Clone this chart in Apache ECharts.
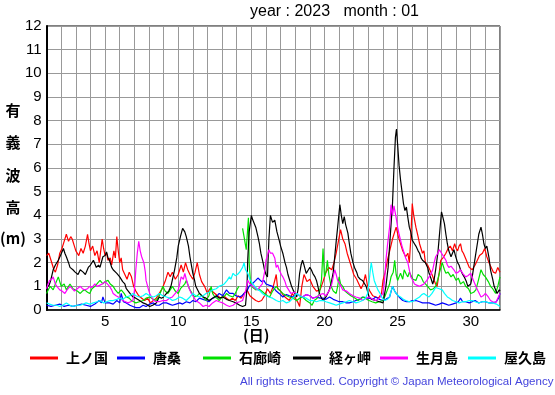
<!DOCTYPE html>
<html><head><meta charset="utf-8">
<script src="https://cdn.jsdelivr.net/npm/echarts@6/dist/echarts.min.js"></script>
<style>html,body{margin:0;padding:0;background:#fff}#c{width:555px;height:395px}</style>
</head><body><div id="c"></div>
<script>
const seriesNames = ['上ノ国','唐桑','石廊崎','経ヶ岬','生月島','屋久島'];
const seriesColors = ['#ff0000','#0000ff','#00e000','#000000','#ff00ff','#00ffff'];
const xTickLabels = [5,10,15,20,25,30];

const kaminokuni = [[1,2.3],[1.15,2.4],[1.3,2.1],[1.5,1.7],[1.6,1.6],[1.75,1.9],[1.9,2.4],[2.05,2.6],[2.2,2.9],[2.35,3.2],[2.5,2.9],[2.65,3.1],[2.75,3.0],[2.9,2.7],[3.0,2.5],[3.2,2.3],[3.35,2.6],[3.5,2.4],[3.65,2.7],[3.8,3.2],[3.9,2.8],[4.0,2.5],[4.15,2.7],[4.3,2.3],[4.45,2.5],[4.6,2.0],[4.7,2.5],[4.8,3.0],[4.9,2.6],[5.0,2.3],[5.1,2.4],[5.2,2.1],[5.35,2.2],[5.45,1.9],[5.6,2.5],[5.7,2.2],[5.8,3.1],[5.9,2.5],[6.0,2.0],[6.1,2.2],[6.2,1.7],[6.35,1.5],[6.5,1.3],[6.65,1.6],[6.8,1.4],[6.95,1.0],[7.1,0.8],[7.3,0.6],[7.5,0.5],[7.7,0.4],[7.9,0.5],[8.1,0.3],[8.3,0.4],[8.5,0.5],[8.7,0.7],[8.9,0.9],[9.1,1.2],[9.3,1.6],[9.45,1.4],[9.6,1.6],[9.8,1.3],[10.0,1.5],[10.2,1.9],[10.35,1.6],[10.5,2.0],[10.65,1.7],[10.8,1.5],[11.0,1.3],[11.15,1.6],[11.3,2.0],[11.45,1.5],[11.6,1.2],[11.8,1.0],[12.0,0.7],[12.15,0.9],[12.3,0.8],[12.5,0.7],[12.7,0.6],[12.9,0.5],[13.1,0.6],[13.3,0.5],[13.5,0.4],[13.7,0.5],[13.9,0.4],[14.1,0.6],[14.3,0.5],[14.5,0.7],[14.7,0.85],[14.9,0.6],[15.1,0.5],[15.3,0.4],[15.5,0.35],[15.7,0.4],[15.9,0.6],[16.1,0.9],[16.3,0.7],[16.5,1.0],[16.7,1.5],[16.8,0.9],[17.0,0.8],[17.2,0.6],[17.4,0.5],[17.6,0.4],[17.8,0.7],[18.0,0.5],[18.2,0.3],[18.3,0.15],[18.45,1.0],[18.6,1.5],[18.8,1.2],[19.0,1.3],[19.2,1.0],[19.45,0.8],[19.7,0.85],[19.9,1.2],[20.1,1.6],[20.3,1.8],[20.5,1.7],[20.65,2.0],[20.8,2.4],[20.95,2.9],[21.1,3.4],[21.25,3.0],[21.4,2.8],[21.55,2.4],[21.7,2.1],[21.85,1.8],[22.0,1.5],[22.2,1.3],[22.35,1.1],[22.5,0.9],[22.65,1.1],[22.8,1.5],[22.95,1.0],[23.1,0.8],[23.3,0.6],[23.5,0.55],[23.7,0.5],[23.9,0.7],[24.0,1.25],[24.15,1.6],[24.3,2.1],[24.5,2.6],[24.65,3.0],[24.8,3.3],[24.9,3.5],[25.05,3.1],[25.2,2.8],[25.35,2.5],[25.55,2.25],[25.7,2.4],[25.8,2.0],[25.9,3.0],[26.0,4.5],[26.1,4.0],[26.25,3.5],[26.4,3.1],[26.5,2.8],[26.6,2.6],[26.7,2.4],[26.8,2.5],[26.9,2.0],[27.05,1.9],[27.2,1.7],[27.35,1.5],[27.5,1.25],[27.6,1.1],[27.7,1.0],[27.85,1.6],[27.95,2.1],[28.1,2.2],[28.3,2.4],[28.45,2.6],[28.6,2.7],[28.75,2.5],[28.9,2.8],[29.0,2.6],[29.1,2.5],[29.2,2.7],[29.3,2.8],[29.4,2.5],[29.5,2.4],[29.7,2.1],[29.9,1.8],[30.1,1.7],[30.3,1.9],[30.45,2.1],[30.6,2.3],[30.8,2.4],[30.95,2.6],[31.1,2.25],[31.25,2.0],[31.4,1.8],[31.55,1.6],[31.7,1.55],[31.85,1.8],[32,1.6]];

const karakuwa = [[1,0.2],[1.3,0.15],[1.6,0.2],[1.9,0.25],[2.2,0.15],[2.5,0.2],[2.8,0.15],[3.1,0.2],[3.4,0.25],[3.7,0.2],[4.0,0.15],[4.3,0.25],[4.6,0.4],[4.75,0.3],[4.85,0.55],[5.0,0.3],[5.3,0.3],[5.55,0.25],[5.8,0.4],[6.0,0.3],[6.1,0.7],[6.25,0.35],[6.45,0.3],[6.7,0.2],[6.9,0.15],[7.1,0.1],[7.35,0.1],[7.6,0.2],[7.8,0.15],[8.05,0.25],[8.3,0.3],[8.5,0.2],[8.7,0.2],[8.95,0.3],[9.2,0.3],[9.4,0.25],[9.6,0.2],[9.85,0.25],[10.1,0.3],[10.3,0.25],[10.55,0.35],[10.8,0.3],[11.0,0.4],[11.2,0.35],[11.45,0.5],[11.7,0.45],[11.9,0.4],[12.1,0.35],[12.35,0.5],[12.6,0.55],[12.8,0.7],[13.05,0.6],[13.3,0.85],[13.5,0.7],[13.75,0.7],[13.95,0.6],[14.2,0.55],[14.35,0.6],[14.5,0.7],[14.7,0.8],[14.85,1.0],[15.05,1.1],[15.3,1.25],[15.45,1.35],[15.55,1.4],[15.7,1.2],[15.85,1.25],[16.0,1.1],[16.2,1.05],[16.45,1.0],[16.7,0.8],[16.9,0.7],[17.15,0.55],[17.4,0.65],[17.6,0.6],[17.85,0.55],[18.1,0.7],[18.3,0.6],[18.5,0.55],[18.75,0.65],[19.0,0.6],[19.2,0.5],[19.45,0.55],[19.7,0.5],[19.9,0.5],[20.1,0.45],[20.35,0.55],[20.6,0.45],[20.8,0.4],[21.0,0.35],[21.25,0.35],[21.5,0.3],[21.7,0.3],[21.95,0.35],[22.15,0.4],[22.4,0.45],[22.6,0.55],[22.85,0.5],[23.05,0.5],[23.3,0.45],[23.5,0.55],[23.75,0.45],[24.0,0.4],[24.2,0.45],[24.45,0.55],[24.65,1.0],[24.8,0.8],[24.9,0.7],[25.1,0.55],[25.35,0.4],[25.6,0.35],[25.8,0.35],[26.0,0.4],[26.25,0.4],[26.5,0.35],[26.7,0.3],[26.95,0.3],[27.15,0.3],[27.4,0.25],[27.6,0.2],[27.85,0.25],[28.05,0.3],[28.3,0.25],[28.5,0.2],[28.75,0.25],[29.0,0.3],[29.15,0.35],[29.3,0.5],[29.45,0.35],[29.65,0.35],[29.9,0.3],[30.1,0.35],[30.3,0.4],[30.55,0.3],[30.8,0.35],[31.0,0.35],[31.25,0.3],[31.5,0.3],[31.75,0.35],[31.9,0.5],[32,0.7]];

const irozaki = [[1,0.7],[1.15,0.9],[1.25,1.0],[1.45,0.85],[1.6,1.1],[1.8,1.4],[1.9,1.2],[2.0,1.0],[2.2,1.1],[2.35,0.85],[2.5,1.0],[2.6,1.1],[2.8,0.9],[2.95,0.85],[3.1,0.8],[3.3,0.7],[3.45,0.8],[3.6,0.85],[3.8,0.75],[3.95,0.7],[4.1,0.9],[4.3,1.0],[4.5,1.15],[4.65,1.25],[4.85,1.1],[5.0,1.2],[5.2,1.25],[5.35,1.1],[5.55,1.0],[5.7,0.85],[5.9,0.7],[6.1,0.85],[6.3,0.7],[6.45,0.55],[6.65,0.5],[6.8,0.4],[6.95,0.35],[7.1,0.3],[7.35,0.35],[7.6,0.4],[7.8,0.5],[8.05,0.55],[8.3,0.45],[8.5,0.4],[8.7,0.6],[8.95,1.0],[9.1,0.8],[9.3,0.7],[9.45,0.85],[9.6,1.0],[9.8,0.8],[10.0,0.7],[10.15,0.9],[10.3,1.0],[10.45,1.1],[10.55,1.25],[10.7,1.0],[10.8,0.85],[10.95,0.7],[11.1,0.55],[11.3,0.6],[11.45,0.7],[11.7,0.55],[11.9,0.4],[12.1,0.6],[12.25,1.0],[12.35,0.7],[12.5,0.55],[12.65,0.5],[12.8,0.4],[13.0,0.55],[13.2,0.6],[13.3,0.7],[13.5,0.6],[13.75,0.55],[13.9,0.7],[14.05,0.9],[14.15,1.0],[14.25,null],[14.4,3.45],[14.5,3.1],[14.65,2.55],[14.7,3.0],[14.8,3.9],[14.85,2.0],[14.95,1.1],[15.1,0.95],[15.3,0.85],[15.5,0.9],[15.7,0.8],[15.9,0.7],[16.1,0.6],[16.25,0.55],[16.45,0.8],[16.7,1.0],[16.9,0.85],[17.15,0.7],[17.4,0.6],[17.6,0.55],[17.85,0.5],[18.1,0.4],[18.3,0.5],[18.5,0.55],[18.75,0.4],[19.0,0.3],[19.15,0.2],[19.3,0.4],[19.5,0.5],[19.65,0.7],[19.8,1.3],[19.9,2.6],[20.0,1.4],[20.1,1.6],[20.2,2.1],[20.3,1.5],[20.45,1.0],[20.6,0.8],[20.8,0.7],[20.9,1.0],[21.0,1.4],[21.1,1.1],[21.25,1.0],[21.4,0.8],[21.6,0.7],[21.8,0.6],[21.95,0.55],[22.1,0.5],[22.3,0.4],[22.5,0.5],[22.7,0.55],[22.9,0.45],[23.05,0.4],[23.25,0.35],[23.5,0.3],[23.75,0.35],[24.0,0.4],[24.15,0.6],[24.3,0.85],[24.45,1.1],[24.55,1.4],[24.7,1.6],[24.8,2.1],[24.9,1.5],[25.0,1.25],[25.1,1.4],[25.2,1.55],[25.35,1.3],[25.45,1.7],[25.6,1.5],[25.7,1.4],[25.8,1.6],[25.9,1.55],[26.05,1.3],[26.25,1.25],[26.4,1.5],[26.6,1.4],[26.75,1.2],[26.9,1.1],[27.05,1.0],[27.25,0.85],[27.45,0.9],[27.6,1.0],[27.75,1.3],[27.85,1.55],[28.05,2.0],[28.2,1.7],[28.3,1.55],[28.45,1.6],[28.65,1.4],[28.8,1.5],[29.0,1.25],[29.15,1.35],[29.3,1.1],[29.5,1.2],[29.65,1.0],[29.85,0.9],[30.0,0.7],[30.2,0.75],[30.35,0.85],[30.5,1.2],[30.7,1.7],[30.85,1.5],[31.0,1.4],[31.2,1.2],[31.35,1.0],[31.5,0.9],[31.7,0.7],[31.85,1.0],[32,1.4]];

const kyogamisaki = [[1,1.1],[1.15,1.0],[1.3,1.3],[1.45,1.7],[1.6,1.9],[1.8,2.1],[1.95,2.3],[2.15,2.6],[2.25,2.4],[2.35,2.25],[2.5,2.0],[2.6,1.8],[2.8,1.7],[2.95,1.6],[3.15,1.5],[3.3,1.7],[3.5,1.6],[3.65,1.5],[3.85,1.8],[4.0,1.9],[4.2,2.1],[4.3,1.95],[4.4,1.8],[4.55,1.9],[4.65,1.8],[4.85,2.25],[5.0,2.3],[5.1,2.45],[5.2,2.2],[5.3,2.1],[5.45,1.8],[5.55,1.7],[5.8,1.55],[5.9,1.6],[6.0,1.4],[6.2,1.2],[6.35,1.1],[6.45,0.9],[6.7,0.7],[6.9,0.55],[7.1,0.5],[7.35,0.4],[7.6,0.3],[7.8,0.25],[8.05,0.15],[8.25,0.2],[8.5,0.3],[8.7,0.55],[8.85,0.5],[9.0,0.55],[9.2,0.7],[9.35,0.8],[9.5,1.0],[9.75,1.7],[9.9,2.2],[10.0,2.7],[10.15,3.1],[10.3,3.45],[10.45,3.3],[10.55,3.1],[10.7,2.7],[10.8,2.25],[10.9,1.9],[11.0,1.55],[11.1,1.3],[11.2,1.0],[11.45,0.7],[11.7,0.55],[11.9,0.5],[12.1,0.4],[12.35,0.5],[12.6,0.6],[12.8,0.5],[13.05,0.55],[13.3,0.45],[13.5,0.4],[13.75,0.35],[13.95,0.3],[14.2,0.2],[14.4,0.15],[14.6,0.2],[14.7,0.9],[14.75,2.1],[14.85,3.3],[15.0,4.0],[15.1,3.8],[15.2,3.8],[15.3,3.5],[15.45,3.1],[15.55,2.8],[15.65,2.4],[15.8,2.0],[15.9,1.7],[16.0,1.5],[16.1,1.4],[16.2,3.0],[16.3,4.0],[16.45,3.7],[16.6,3.8],[16.75,3.3],[16.9,2.95],[17.0,2.7],[17.15,2.4],[17.3,2.0],[17.4,1.8],[17.5,1.5],[17.6,1.3],[17.75,1.0],[17.85,0.85],[18.1,0.55],[18.2,0.9],[18.3,1.55],[18.4,1.9],[18.5,2.1],[18.6,1.9],[18.75,1.55],[18.9,1.7],[19.0,1.8],[19.1,1.7],[19.2,1.55],[19.35,1.4],[19.45,1.25],[19.55,1.0],[19.65,0.7],[19.8,0.5],[19.9,0.4],[20.1,0.55],[20.3,0.8],[20.45,1.1],[20.6,1.6],[20.7,2.25],[20.8,2.9],[20.9,3.5],[21.05,4.45],[21.15,4.0],[21.25,3.65],[21.35,3.95],[21.45,3.6],[21.6,3.25],[21.7,2.8],[21.8,2.4],[21.95,2.0],[22.05,1.8],[22.2,1.6],[22.3,1.4],[22.45,1.3],[22.6,1.25],[22.75,1.1],[22.85,1.0],[23.05,0.55],[23.25,0.45],[23.5,0.4],[23.75,0.35],[24.0,0.3],[24.2,1.0],[24.35,1.8],[24.45,2.7],[24.55,3.6],[24.65,4.5],[24.75,6.0],[24.85,7.3],[24.92,7.65],[25.0,7.0],[25.1,6.1],[25.2,5.5],[25.3,5.0],[25.4,4.5],[25.5,4.2],[25.6,4.35],[25.7,3.9],[25.8,3.5],[25.9,3.3],[26.0,2.95],[26.15,2.8],[26.25,2.7],[26.4,2.5],[26.5,2.4],[26.6,2.2],[26.7,2.1],[26.9,2.0],[27.05,1.8],[27.15,1.55],[27.3,1.3],[27.4,1.1],[27.5,1.3],[27.6,1.7],[27.75,2.4],[27.85,3.1],[27.95,3.8],[28.0,4.15],[28.1,3.9],[28.2,3.65],[28.3,3.2],[28.4,2.8],[28.5,2.5],[28.65,2.25],[28.75,2.4],[28.85,2.55],[28.95,2.3],[29.1,2.0],[29.2,1.9],[29.3,1.7],[29.45,1.5],[29.55,1.4],[29.7,1.2],[29.8,1.0],[30.0,1.1],[30.1,1.4],[30.2,1.8],[30.3,2.2],[30.45,2.8],[30.55,3.2],[30.7,3.5],[30.8,3.2],[30.9,2.8],[31.0,2.6],[31.1,2.7],[31.25,2.2],[31.35,1.7],[31.5,1.3],[31.6,1.0],[31.8,0.7],[31.95,0.85],[32,0.8]];

const ikitsukishima = [[1,0.9],[1.1,1.1],[1.2,1.25],[1.35,1.3],[1.45,1.4],[1.6,1.1],[1.7,1.0],[1.9,0.85],[2.05,0.8],[2.25,0.7],[2.4,0.85],[2.6,1.0],[2.75,0.9],[2.9,0.8],[3.1,0.9],[3.3,1.0],[3.45,0.9],[3.6,0.85],[3.8,0.9],[3.95,1.0],[4.1,0.95],[4.3,1.1],[4.45,1.0],[4.65,1.05],[4.8,1.1],[5.0,1.2],[5.15,1.1],[5.3,1.0],[5.45,0.85],[5.55,0.7],[5.75,0.6],[5.9,0.55],[6.05,0.5],[6.2,0.4],[6.4,0.35],[6.55,0.3],[6.75,0.35],[6.9,0.4],[7.0,0.8],[7.1,1.7],[7.2,2.4],[7.3,2.9],[7.4,2.5],[7.5,2.25],[7.65,2.0],[7.75,1.6],[7.8,1.25],[7.95,0.9],[8.05,0.7],[8.3,0.4],[8.5,0.35],[8.7,0.35],[8.95,0.4],[9.2,0.4],[9.4,0.5],[9.6,0.55],[9.8,0.7],[10.0,0.85],[10.1,1.1],[10.2,1.4],[10.35,1.3],[10.45,1.55],[10.55,1.3],[10.65,1.1],[10.75,0.9],[10.9,0.7],[11.05,0.55],[11.2,0.4],[11.45,0.3],[11.7,0.15],[11.9,0.2],[12.1,0.15],[12.35,0.3],[12.6,0.4],[12.8,0.35],[13.05,0.3],[13.3,0.2],[13.5,0.15],[13.75,0.2],[13.95,0.3],[14.2,0.35],[14.4,0.4],[14.6,0.8],[14.75,1.25],[14.9,1.1],[15.1,1.0],[15.3,0.9],[15.45,0.85],[15.6,1.0],[15.75,1.1],[15.9,1.6],[16.0,2.1],[16.1,2.3],[16.2,2.55],[16.3,2.4],[16.45,2.4],[16.6,2.2],[16.7,1.8],[16.8,1.9],[16.9,1.7],[17.05,1.5],[17.15,1.4],[17.3,1.2],[17.4,1.0],[17.55,0.85],[17.7,0.7],[17.9,0.75],[18.1,0.7],[18.3,0.6],[18.5,0.55],[18.75,0.65],[19.0,0.6],[19.2,0.5],[19.45,0.55],[19.7,0.65],[19.9,0.7],[20.1,0.6],[20.35,0.85],[20.5,1.1],[20.6,1.4],[20.7,1.7],[20.8,1.5],[20.9,1.25],[21.05,1.1],[21.25,0.85],[21.5,0.8],[21.7,0.7],[21.95,0.6],[22.15,0.55],[22.4,0.5],[22.6,0.4],[22.85,0.5],[23.05,0.55],[23.3,0.45],[23.5,0.4],[23.75,0.5],[24.0,0.7],[24.1,1.2],[24.2,2.1],[24.3,2.7],[24.45,3.5],[24.55,4.45],[24.65,4.0],[24.75,4.4],[24.8,4.35],[24.9,3.9],[25.0,3.5],[25.1,3.2],[25.2,2.95],[25.3,2.7],[25.45,2.4],[25.55,2.2],[25.7,2.0],[25.8,1.7],[25.9,1.4],[26.0,1.3],[26.15,1.1],[26.3,1.05],[26.5,1.0],[26.65,1.05],[26.8,1.1],[27.0,1.25],[27.15,1.4],[27.3,1.55],[27.4,1.7],[27.5,2.0],[27.6,2.25],[27.75,2.4],[27.85,2.55],[27.95,2.45],[28.05,2.4],[28.2,2.2],[28.3,2.1],[28.4,1.9],[28.5,1.8],[28.65,1.85],[28.75,1.8],[28.9,1.65],[29.0,1.55],[29.15,1.6],[29.3,1.7],[29.45,1.55],[29.65,1.4],[29.8,1.45],[30.0,1.55],[30.15,1.3],[30.35,1.0],[30.5,0.8],[30.7,0.55],[30.85,0.6],[31.0,0.7],[31.2,0.55],[31.35,0.4],[31.5,0.35],[31.7,0.3],[31.85,0.5],[32,0.7]];

const yakushima = [[1,0.3],[1.2,0.25],[1.45,0.2],[1.7,0.2],[1.9,0.15],[2.1,0.2],[2.35,0.3],[2.6,0.2],[2.8,0.15],[3.05,0.2],[3.3,0.2],[3.5,0.25],[3.7,0.3],[3.95,0.25],[4.2,0.3],[4.45,0.35],[4.65,0.4],[4.9,0.3],[5.1,0.35],[5.35,0.4],[5.55,0.4],[5.8,0.45],[6.0,0.5],[6.2,0.45],[6.45,0.55],[6.7,0.6],[6.9,0.7],[7.1,0.6],[7.35,0.55],[7.6,0.6],[7.8,0.7],[8.05,0.6],[8.3,0.55],[8.5,0.6],[8.7,0.7],[8.95,0.6],[9.2,0.55],[9.4,0.5],[9.6,0.4],[9.85,0.45],[10.1,0.55],[10.3,0.5],[10.55,0.4],[10.8,0.55],[11.0,0.7],[11.2,0.6],[11.45,0.55],[11.7,0.6],[11.9,0.7],[12.1,0.75],[12.35,0.85],[12.6,0.9],[12.8,1.0],[13.0,1.05],[13.15,1.1],[13.35,1.25],[13.5,1.4],[13.6,1.3],[13.75,1.55],[13.9,1.45],[14.05,1.5],[14.2,1.6],[14.3,1.7],[14.4,1.8],[14.5,2.0],[14.6,1.7],[14.75,1.55],[14.9,1.3],[15.1,1.1],[15.3,0.95],[15.45,0.85],[15.6,0.8],[15.75,0.7],[16.0,0.6],[16.2,0.55],[16.45,0.5],[16.7,0.4],[16.9,0.35],[17.15,0.4],[17.4,0.3],[17.6,0.35],[17.85,0.5],[18.1,0.7],[18.3,0.6],[18.5,0.55],[18.75,0.5],[19.0,0.4],[19.2,0.4],[19.45,0.35],[19.7,0.4],[19.9,0.4],[20.1,0.35],[20.35,0.3],[20.6,0.25],[20.8,0.2],[21.0,0.25],[21.25,0.3],[21.5,0.35],[21.7,0.4],[21.95,0.35],[22.15,0.3],[22.4,0.35],[22.6,0.4],[22.8,0.5],[22.95,0.7],[23.05,1.2],[23.15,1.8],[23.2,2.0],[23.3,1.6],[23.4,1.25],[23.55,1.0],[23.65,0.85],[23.8,0.7],[23.9,0.55],[24.1,0.4],[24.3,0.45],[24.45,0.55],[24.55,0.8],[24.65,1.0],[24.75,0.85],[24.9,0.7],[25.05,0.6],[25.2,0.55],[25.4,0.45],[25.55,0.4],[25.8,0.35],[26.0,0.35],[26.25,0.45],[26.5,0.55],[26.65,0.65],[26.8,0.7],[27.0,0.6],[27.15,0.55],[27.35,0.7],[27.5,0.85],[27.6,0.95],[27.7,1.0],[27.85,0.9],[28.05,0.85],[28.2,0.7],[28.4,0.55],[28.55,0.5],[28.75,0.4],[29.0,0.35],[29.2,0.3],[29.45,0.35],[29.65,0.35],[29.9,0.4],[30.1,0.4],[30.3,0.35],[30.55,0.3],[30.8,0.35],[31.0,0.35],[31.25,0.3],[31.5,0.3],[31.75,0.25],[32,0.15]];

const allData = [kaminokuni, karakuwa, irozaki, kyogamisaki, ikitsukishima, yakushima];
const yAxisChars = ['有','義','波','高','(m)'];

const chart = echarts.init(document.getElementById('c'), null, {renderer:'canvas'});
const sansFont = 'Liberation Sans, Arial, sans-serif';
const cjkFont = '"Noto Sans CJK JP", sans-serif';

const graphics = [
  {type:'text', left:250, top:4, style:{text:'year : 2023   month : 01', font:'16px ' + sansFont, fill:'#000'}},
  {type:'text', left:243, top:328, style:{text:'(日)', font:'bold 15px ' + cjkFont, fill:'#000'}},
  {type:'text', left:240, top:376, style:{text:'All rights reserved. Copyright © Japan Meteorological Agency', font:'11.5px ' + sansFont, fill:'#4444dd'}}
];
const yCharY = [110, 142, 175, 207, 238];
yAxisChars.forEach((c,i)=>{
  graphics.push({type:'text', x:13, y:yCharY[i], style:{text:c, font:'bold 15px ' + cjkFont, fill:'#000', align:'center', verticalAlign:'middle'}});
});

const legendLeft = [30, 117, 203, 293, 380, 468];
const legends = seriesNames.map((n,i)=>({
  left:legendLeft[i], top:351, icon:'rect', itemWidth:28, itemHeight:3, padding:0,
  textStyle:{fontFamily:cjkFont, fontWeight:'bold', fontSize:14, color:'#000', padding:[0,0,0,3]},
  selectedMode:false, data:[n]
}));

chart.setOption({
  animation:false,
  grid:{left:46.6, right:55, top:26, bottom:85, show:true, borderColor:'#000', borderWidth:1, backgroundColor:'transparent'},
  xAxis:{type:'value', min:1, max:32, interval:1,
    axisLine:{show:true, onZero:false, lineStyle:{color:'#000', width:1.5}},
    axisTick:{show:false},
    axisLabel:{margin:4, color:'#000', fontSize:15, fontFamily:sansFont, showMinLabel:false, showMaxLabel:false,
      formatter:v=> xTickLabels.indexOf(v) >= 0 ? String(v) : ''},
    splitLine:{show:true, lineStyle:{color:'#999', width:1}}},
  yAxis:{type:'value', min:0, max:12, interval:1,
    axisLine:{show:true, lineStyle:{color:'#000', width:2}},
    axisTick:{show:false},
    axisLabel:{margin:5, color:'#000', fontSize:15, fontFamily:sansFont},
    splitLine:{show:true, lineStyle:{color:'#999', width:1}}},
  legend:legends,
  graphic:graphics,
  series: seriesNames.map((n,i)=>({name:n, type:'line', data:allData[i], showSymbol:false, symbol:'none',
    lineStyle:{color:seriesColors[i], width:1.2}, itemStyle:{color:seriesColors[i]}, connectNulls:false, silent:true}))
});
</script></body></html>
